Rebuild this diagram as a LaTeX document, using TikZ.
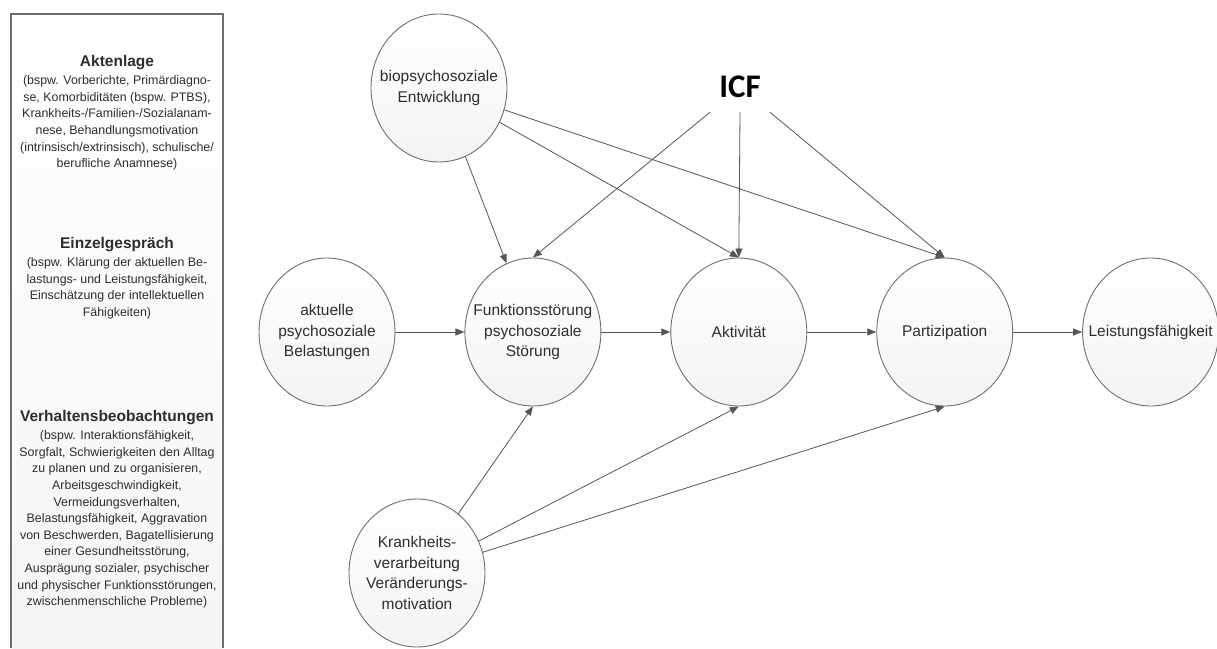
\documentclass[tikz,border=0pt]{standalone}
\usepackage{fontspec}
\setmainfont{Liberation Sans}
\newfontfamily\icffont{Carlito}
\usepackage{tikz}
\usetikzlibrary{arrows.meta,positioning,shapes.geometric}

\definecolor{lineg}{RGB}{85,85,85}
\definecolor{rimg}{RGB}{110,110,110}
\definecolor{txtg}{RGB}{45,45,45}

\begin{document}
\begin{tikzpicture}[x=1pt,y=-1pt,>={Triangle[length=9pt,width=7pt]},node distance=69pt,
factor/.style={draw=rimg,line width=0.9pt,ellipse,minimum width=136pt,minimum height=148pt,inner xsep=-20pt,inner ysep=0pt,
  top color=white,bottom color=gray!9,align=center,text=txtg,font=\fontsize{15.5}{20.5}\selectfont},
boxhead/.style={inner sep=0pt,text=txtg,font=\fontsize{15.5}{18}\selectfont\bfseries},
boxtext/.style={inner sep=0pt,align=center,text=txtg,font=\fontsize{12.4}{16.6}\selectfont},
flow/.style={->,draw=lineg,line width=0.8pt}]
\useasboundingbox (0,0) rectangle (1217,648);
% left info box
\fill[top color=white,bottom color=gray!8] (11,14) rectangle (223,648);
\draw[rimg,line width=1.2pt] (11,648)--(11,14)--(223,14)--(223,648);
\node[boxhead] (akten) at (117,63) {Aktenlage};
\node[boxtext,below=5pt of akten] (aktentxt) {(bspw. Vorberichte, Primärdiagno-\\se, Komorbiditäten (bspw. PTBS),\\Krankheits-/Familien-/Sozialanam-\\nese, Behandlungsmotivation\\(intrinsisch/extrinsisch), schulische/\\berufliche Anamnese)};
\node[boxhead] (einzel) at (117,245) {Einzelgespräch};
\node[boxtext,below=5pt of einzel] (einzeltxt) {(bspw. Klärung der aktuellen Be-\\lastungs- und Leistungsfähigkeit,\\Einschätzung der intellektuellen\\Fähigkeiten)};
\node[boxhead] (verh) at (117,418) {Verhaltensbeobachtungen};
\node[boxtext,below=5pt of verh] (verhtxt) {(bspw. Interaktionsfähigkeit,\\Sorgfalt, Schwierigkeiten den Alltag\\zu planen und zu organisieren,\\Arbeitsgeschwindigkeit,\\Vermeidungsverhalten,\\Belastungsfähigkeit, Aggravation\\von Beschwerden, Bagatellisierung\\einer Gesundheitsstörung,\\Ausprägung sozialer, psychischer\\und physischer Funktionsstörungen,\\zwischenmenschliche Probleme)};
% model
\node[factor] (bel) at (327,332) {aktuelle\\psychosoziale\\Belastungen};
\node[factor,right=of bel] (funk) {Funktionsstörung\\psychosoziale\\Störung};
\node[factor,right=of funk] (akt) {Aktivität};
\node[factor,right=of akt] (part) {Partizipation};
\node[factor,right=of part] (leist) {Leistungsfähigkeit};
\node[factor] (bio) at (439,88) {biopsychosoziale\\Entwicklung};
\node[factor] (krank) at (417,573) {Krankheits-\\verarbeitung\\Veränderungs-\\motivation};
\node[inner xsep=9pt,inner ysep=14pt,font=\icffont\fontsize{33}{33}\selectfont\bfseries] (icf) at (740,87) {ICF};
\draw[flow] (bel)--(funk);
\draw[flow] (funk)--(akt);
\draw[flow] (akt)--(part);
\draw[flow] (part)--(leist);
\draw[flow] (bio)--(funk);
\draw[flow] (bio)--(akt.north);
\draw[flow] (bio)--(part.north);
\draw[flow] (icf.south west)--(funk.north);
\draw[flow] (icf.south)--(akt.north);
\draw[flow] (icf.south east)--(part.north);
\draw[flow] (krank)--(funk.south);
\draw[flow] (krank)--(akt.south);
\draw[flow] (krank)--(part.south);
\end{tikzpicture}
\end{document}
